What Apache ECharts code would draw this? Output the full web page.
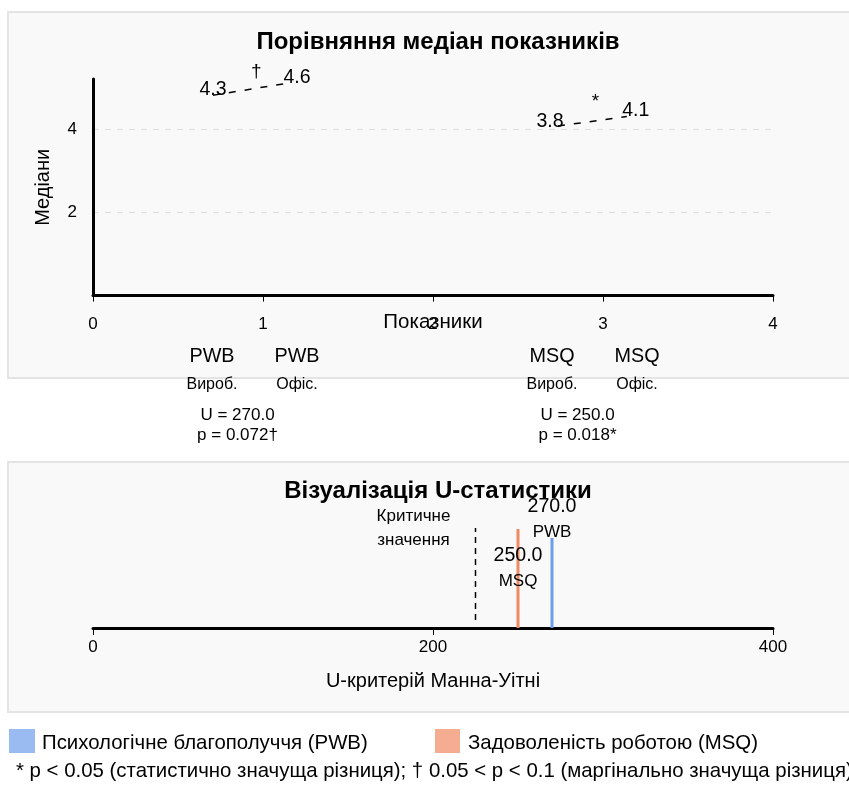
<!DOCTYPE html>
<html>
<head>
<meta charset="utf-8">
<script src="https://cdn.jsdelivr.net/npm/echarts@6/dist/echarts.min.js"></script>
<style>
html,body{margin:0;padding:0;background:#fff;}
#c{width:849px;height:785px;}
</style>
</head>
<body>
<div id="c"></div>
<script>
// ---------- data ----------
const groupLabels = ['PWB', 'PWB', 'MSQ', 'MSQ'];
const subLabels = ['Вироб.', 'Офіс.', 'Вироб.', 'Офіс.'];
const categoryX = [0.7, 1.2, 2.7, 3.2];
const medians = [4.3, 4.6, 3.8, 4.1];
// dashed connector positions as drawn in the picture
const pwbLineX = [0.706, 1.147];
const pwbLineY = [4.81, 5.10];
const msqLineX = [2.735, 3.14];
const msqLineY = [4.07, 4.30];
const sigMarks = ['†', '*'];
const sigX = [0.96, 2.956];
const sigY = [5.39, 4.76];
const statX = [0.85, 2.85];
const uValues = [270.0, 250.0];
const pValues = ['0.072†', '0.018*'];
const uNames = ['PWB', 'MSQ'];
const uBarHeights = [0.90, 0.99];
const criticalU = 225;
const criticalRange = [0.08, 1.0];
const yTicks = [2, 4];

const FONT = '"Liberation Sans", Arial, Helvetica, sans-serif';
const BLUE = '#6d9eeb';
const ORANGE = '#f08a62';

const chart = echarts.init(document.getElementById('c'), null, {renderer: 'canvas'});

const option = {
  animation: false,
  textStyle: {fontFamily: FONT},
  title: [
    {text: 'Порівняння медіан показників', left: 433, textAlign: 'center', top: 25,
     textStyle: {fontSize: 24, fontWeight: 'bold', color: '#000', fontFamily: FONT}},
    {text: 'Візуалізація U-статистики', left: 433, textAlign: 'center', top: 474,
     textStyle: {fontSize: 24, fontWeight: 'bold', color: '#000', fontFamily: FONT}}
  ],
  grid: [
    {left: 93, top: 79, width: 680, height: 216.6},
    {left: 93, top: 528, width: 680, height: 100}
  ],
  xAxis: [
    {gridIndex: 0, type: 'value', min: 0, max: 4, interval: 1,
     name: 'Показники', nameLocation: 'middle', nameGap: 16, nameMoveOverlap: false,
     nameTextStyle: {fontSize: 20.5, color: '#000', fontFamily: FONT},
     axisLine: {show: true, lineStyle: {color: '#000', width: 3}},
     axisTick: {show: true, length: 6, lineStyle: {color: '#000', width: 1}},
     axisLabel: {fontSize: 17, color: '#000', margin: 20, fontFamily: FONT},
     splitLine: {show: false}},
    {gridIndex: 1, type: 'value', min: 0, max: 400, interval: 200,
     name: 'U-критерій Манна-Уітні', nameLocation: 'middle', nameGap: 43, nameMoveOverlap: false,
     nameTextStyle: {fontSize: 20, color: '#000', fontFamily: FONT},
     axisLine: {show: true, lineStyle: {color: '#000', width: 3}},
     axisTick: {show: true, length: 7, lineStyle: {color: '#000', width: 1}},
     axisLabel: {fontSize: 17, color: '#000', margin: 11, fontFamily: FONT},
     splitLine: {show: false}}
  ],
  yAxis: [
    {gridIndex: 0, type: 'value', min: 0, max: 5.2, interval: 2,
     name: 'Медіани', nameLocation: 'middle', nameGap: 40, nameMoveOverlap: false,
     nameTextStyle: {fontSize: 20, color: '#000', fontFamily: FONT},
     axisLine: {show: true, lineStyle: {color: '#000', width: 3}},
     axisTick: {show: false},
     axisLabel: {fontSize: 17, color: '#000', margin: 16, fontFamily: FONT,
       formatter: v => (yTicks.indexOf(v) >= 0 ? String(v) : '')},
     splitLine: {show: true, showMinLine: false, showMaxLine: false,
       lineStyle: {color: '#dddddd', type: [6, 6], width: 1}}},
    {gridIndex: 1, type: 'value', min: 0, max: 1, show: false}
  ],
  series: [
    {type: 'line', xAxisIndex: 0, yAxisIndex: 0, symbol: 'none', silent: true,
     lineStyle: {color: '#000', width: 1.5, type: [7, 9]},
     data: pwbLineX.map((x, i) => [x, pwbLineY[i]])},
    {type: 'line', xAxisIndex: 0, yAxisIndex: 0, symbol: 'none', silent: true,
     lineStyle: {color: '#000', width: 1.5, type: [7, 9]},
     data: msqLineX.map((x, i) => [x, msqLineY[i]])},
    {type: 'line', xAxisIndex: 1, yAxisIndex: 1, symbol: 'none', silent: true,
     lineStyle: {color: '#000', width: 1.5, type: [6, 5]},
     data: [[criticalU, criticalRange[0]], [criticalU, criticalRange[1]]]},
    {type: 'line', xAxisIndex: 1, yAxisIndex: 1, symbol: 'none', silent: true,
     lineStyle: {color: ORANGE, width: 3},
     data: [[uValues[1], 0], [uValues[1], uBarHeights[1]]]},
    {type: 'line', xAxisIndex: 1, yAxisIndex: 1, symbol: 'none', silent: true,
     lineStyle: {color: BLUE, width: 3},
     data: [[uValues[0], 0], [uValues[0], uBarHeights[0]]]}
  ]
};
chart.setOption(option);

function px(grid, x, y) { return chart.convertToPixel({gridIndex: grid}, [x, y]); }
function txt(text, x, y, size, opts) {
  return Object.assign({type: 'text', z: 100, silent: true,
    style: Object.assign({text: text, x: x, y: y, font: size + 'px ' + FONT,
      fill: '#000', align: 'center', verticalAlign: 'middle'}, (opts || {}))});
}

const els = [];
// panels
els.push({type: 'rect', z: -100, silent: true, shape: {x: 8, y: 12, width: 900, height: 366},
  style: {fill: '#f9f9f9', stroke: '#e4e4e4', lineWidth: 2}});
els.push({type: 'rect', z: -100, silent: true, shape: {x: 8, y: 462, width: 900, height: 250},
  style: {fill: '#f9f9f9', stroke: '#e4e4e4', lineWidth: 2}});

// median labels
const medOffsets = [[0, -6], [9, -6], [-8, -4], [9, -6]];
const lineEnds = [[pwbLineX[0], pwbLineY[0]], [pwbLineX[1], pwbLineY[1]],
                  [msqLineX[0], msqLineY[0]], [msqLineX[1], msqLineY[1]]];
lineEnds.forEach((p, i) => {
  const q = px(0, p[0], p[1]);
  els.push(txt(medians[i].toFixed(1), q[0] + medOffsets[i][0], q[1] + medOffsets[i][1], 19.5));
});
// significance marks
sigMarks.forEach((m, i) => {
  const q = px(0, sigX[i], sigY[i]);
  els.push(txt(m, q[0], q[1] + (m === '*' ? 4 : 1), 19));
});
// category labels below axis
categoryX.forEach((x, i) => {
  const q = px(0, x, 0);
  els.push(txt(groupLabels[i], q[0], 357, 19.8));
  els.push(txt(subLabels[i], q[0], 385, 16));
});
statX.forEach((x, i) => {
  const q = px(0, x, 0);
  els.push(txt('U = ' + uValues[i].toFixed(1), q[0], 415, 17));
  els.push(txt('p = ' + pValues[i], q[0], 435, 17));
});
// U chart labels
uValues.forEach((u, i) => {
  const q = px(1, u, uBarHeights[i]);
  const top = i === 0 ? 506.5 : 555.5;
  const sub = i === 0 ? 532.5 : 581.5;
  els.push(txt(u.toFixed(1), q[0], top, 19.6));
  els.push(txt(uNames[i], q[0], sub, 17));
});
{
  const q = px(1, criticalU, 1);
  els.push(txt('Критичне', q[0] - 62, 516, 17));
  els.push(txt('значення', q[0] - 62, 540, 17));
}
// legend
els.push({type: 'rect', z: 100, silent: true, shape: {x: 9, y: 729, width: 26, height: 24},
  style: {fill: BLUE, opacity: 0.7}});
els.push(txt('Психологічне благополуччя (PWB)', 42, 743, 20.4, {align: 'left'}));
els.push({type: 'rect', z: 100, silent: true, shape: {x: 435, y: 729, width: 25, height: 24},
  style: {fill: ORANGE, opacity: 0.7}});
els.push(txt('Задоволеність роботою (MSQ)', 468, 743, 20.4, {align: 'left'}));
els.push(txt('* p < 0.05 (статистично значуща різниця); † 0.05 < p < 0.1 (маргінально значуща різниця)', 16, 771, 20.4, {align: 'left'}));

chart.setOption({graphic: {elements: els}});
</script>
</body>
</html>
